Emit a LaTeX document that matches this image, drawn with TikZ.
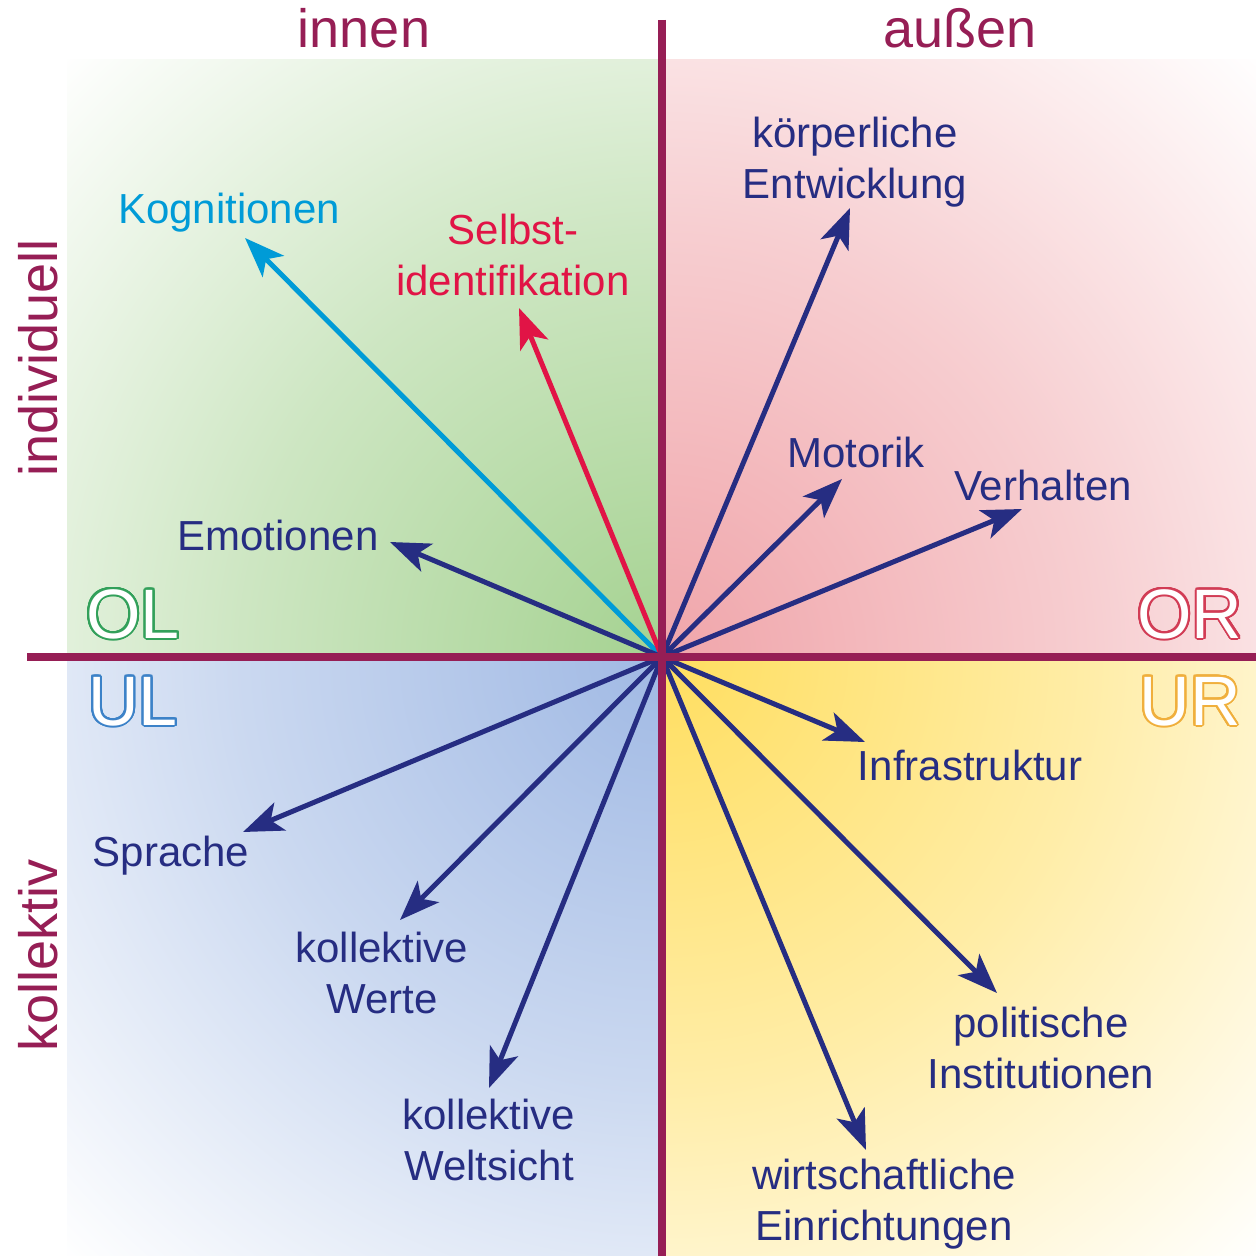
\documentclass[tikz,border=0pt]{standalone}
\usepackage{fontspec}
\setmainfont{Liberation Sans}
\usepackage[copies]{contour}
\usetikzlibrary{arrows.meta}
\definecolor{maroon}{RGB}{150,30,85}
\definecolor{navy}{RGB}{38,45,130}
\definecolor{kcyan}{RGB}{0,155,215}
\definecolor{kred}{RGB}{225,20,70}
\definecolor{cOL}{RGB}{165,210,145}
\definecolor{cOR}{RGB}{240,165,170}
\definecolor{cUL}{RGB}{160,185,228}
\definecolor{cUR}{RGB}{255,222,95}
\definecolor{lOL}{RGB}{50,160,90}
\definecolor{lOR}{RGB}{210,60,85}
\definecolor{lUL}{RGB}{60,130,200}
\definecolor{lUR}{RGB}{240,175,60}
\colorlet{mOL}{cOL!55!white}
\colorlet{mOR}{cOR!55!white}
\colorlet{mUL}{cUL!55!white}
\colorlet{mUR}{cUR!55!white}
\pgfdeclareradialshading{shOL}{\pgfpoint{0bp}{0bp}}{color(0bp)=(cOL); color(12.5bp)=(mOL); color(25bp)=(white); color(50bp)=(white)}
\pgfdeclareradialshading{shOR}{\pgfpoint{0bp}{0bp}}{color(0bp)=(cOR); color(12.5bp)=(mOR); color(25bp)=(white); color(50bp)=(white)}
\pgfdeclareradialshading{shUL}{\pgfpoint{0bp}{0bp}}{color(0bp)=(cUL); color(12.5bp)=(mUL); color(25bp)=(white); color(50bp)=(white)}
\pgfdeclareradialshading{shUR}{\pgfpoint{0bp}{0bp}}{color(0bp)=(cUR); color(12.5bp)=(mUR); color(25bp)=(white); color(50bp)=(white)}
\contourlength{1pt}
\contournumber{32}
\begin{document}
\begin{tikzpicture}[x=0.5pt,y=-0.5pt,
  lbl/.style={text=navy, font=\fontsize{21}{25.5}\selectfont, inner sep=0pt, align=center, anchor=base},
  axlbl/.style={text=maroon, font=\fontsize{27}{32}\selectfont, inner sep=0pt, anchor=base},
  qlbl/.style={font=\fontsize{35}{40}\selectfont, inner sep=0pt, anchor=base},
  arr/.style={line width=2.5pt, navy, -{Stealth[length=20pt,width=15pt,inset=5pt]}},
  axis/.style={line width=4pt, maroon}]
\useasboundingbox (0,0) rectangle (1256,1256);
\coordinate (O) at (662,657);
% quadrant backgrounds
\begin{scope}
\clip (67,60) rectangle (662,657);
\shade[shading=shOL] (O) circle (850);
\end{scope}
\begin{scope}
\clip (662,60) rectangle (1256,657);
\shade[shading=shOR] (O) circle (850);
\end{scope}
\begin{scope}
\clip (67,657) rectangle (662,1256);
\shade[shading=shUL] (O) circle (850);
\end{scope}
\begin{scope}
\clip (662,657) rectangle (1256,1256);
\shade[shading=shUR] (O) circle (850);
\end{scope}
% arrow tips
\coordinate (tKog) at (245,238);
\coordinate (tSel) at (519,308);
\coordinate (tEmo) at (390,542);
\coordinate (tKoe) at (850,208);
\coordinate (tMot) at (842,479);
\coordinate (tVer) at (1022,509);
\coordinate (tInf) at (865,742);
\coordinate (tPol) at (997,993);
\coordinate (tWir) at (866,1150);
\coordinate (tWel) at (489,1088);
\coordinate (tWer) at (400,920);
\coordinate (tSpr) at (243,832);
% arrows
\draw[arr, kcyan] (O) -- (tKog);
\draw[arr, kred] (O) -- (tSel);
\draw[arr] (O) -- (tEmo);
\draw[arr] (O) -- (tKoe);
\draw[arr] (O) -- (tMot);
\draw[arr] (O) -- (tVer);
\draw[arr] (O) -- (tInf);
\draw[arr] (O) -- (tPol);
\draw[arr] (O) -- (tWir);
\draw[arr] (O) -- (tWel);
\draw[arr] (O) -- (tWer);
\draw[arr] (O) -- (tSpr);
% axes
\coordinate (vTop) at (662,20);
\coordinate (vBot) at (662,1256);
\coordinate (hL) at (27,657);
\coordinate (hR) at (1256,657);
\draw[axis] (vTop) -- (vBot);
\draw[axis] (hL) -- (hR);
% axis labels
\node[axlbl] (innen) at (364,48) {innen};
\node[axlbl] (aussen) at (960,48) {außen};
\node[axlbl, rotate=90] (indiv) at (57,358) {individuell};
\node[axlbl, rotate=90] (koll) at (57,955) {kollektiv};
% quadrant labels
\node[qlbl] (qOL) at (133,638) {\contour{lOL}{\color{white}OL}};
\node[qlbl] (qOR) at (1190,638) {\contour{lOR}{\color{white}OR}};
\node[qlbl] (qUL) at (133,725) {\contour{lUL}{\color{white}UL}};
\node[qlbl] (qUR) at (1190,725) {\contour{lUR}{\color{white}UR}};
% labels
\node[lbl, text=kcyan] (lKog) at (229,224) {Kognitionen};
\node[lbl, text=kred] (lSel) at (513,296) {Selbst-\\identifikation};
\node[lbl] (lEmo) at (278,550) {Emotionen};
\node[lbl] (lKoe) at (855,199) {körperliche\\Entwicklung};
\node[lbl] (lMot) at (856,467) {Motorik};
\node[lbl] (lVer) at (1043,500) {Verhalten};
\node[lbl] (lInf) at (970,780) {Infrastruktur};
\node[lbl] (lPol) at (1041,1088) {politische\\Institutionen};
\node[lbl] (lWir) at (884,1240) {wirtschaftliche\\Einrichtungen};
\node[lbl] (lWel) at (489,1180) {kollektive\\Weltsicht};
\node[lbl] (lWer) at (382,1013) {kollektive\\Werte};
\node[lbl] (lSpr) at (171,866) {Sprache};
\end{tikzpicture}
\end{document}
